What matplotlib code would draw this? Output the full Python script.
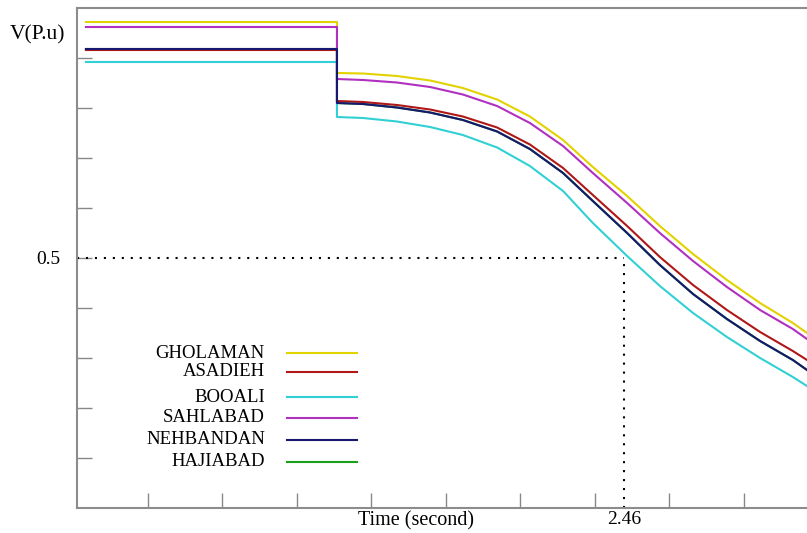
import matplotlib
matplotlib.use('Agg')
import matplotlib.pyplot as plt
import matplotlib.transforms as mtrans

# time axis (seconds)
t_pre = [1.014, 1.688]
t_post = [1.688, 1.758, 1.849, 1.938, 2.026, 2.118, 2.206, 2.295,
          2.375, 2.467, 2.555, 2.644, 2.735, 2.824, 2.912, 2.950]

# draw order (last one ends up on top)
names = ['HAJIABAD', 'GHOLAMAN', 'SAHLABAD', 'BOOALI', 'ASADIEH', 'NEHBANDAN']

v_pre = {
    'GHOLAMAN': 0.972,
    'SAHLABAD': 0.962,
    'ASADIEH': 0.916,
    'NEHBANDAN': 0.918,
    'BOOALI': 0.892,
    'HAJIABAD': 0.918,
}

v_post = {
    'GHOLAMAN': [0.870, 0.869, 0.864, 0.855, 0.840, 0.817, 0.783, 0.736,
                 0.682, 0.624, 0.564, 0.508, 0.456, 0.410, 0.370, 0.350],
    'SAHLABAD': [0.858, 0.856, 0.851, 0.842, 0.827, 0.804, 0.770, 0.724,
                 0.670, 0.610, 0.550, 0.494, 0.442, 0.396, 0.358, 0.338],
    'ASADIEH': [0.814, 0.812, 0.806, 0.797, 0.783, 0.761, 0.727, 0.680,
                0.626, 0.564, 0.502, 0.446, 0.396, 0.352, 0.314, 0.296],
    'NEHBANDAN': [0.810, 0.808, 0.801, 0.791, 0.776, 0.753, 0.718, 0.670,
                  0.614, 0.550, 0.486, 0.428, 0.378, 0.334, 0.296, 0.276],
    'BOOALI': [0.782, 0.780, 0.773, 0.762, 0.746, 0.721, 0.684, 0.634,
               0.570, 0.504, 0.444, 0.390, 0.342, 0.300, 0.262, 0.244],
    'HAJIABAD': [0.810, 0.808, 0.801, 0.791, 0.776, 0.753, 0.718, 0.670,
                 0.614, 0.550, 0.486, 0.428, 0.378, 0.334, 0.296, 0.276],
}

colors = {
    'GHOLAMAN': '#e2d200',
    'ASADIEH': '#b01818',
    'BOOALI': '#30d0d4',
    'SAHLABAD': '#b030c0',
    'NEHBANDAN': '#181870',
    'HAJIABAD': '#18a018',
}

legend_order = ['GHOLAMAN', 'ASADIEH', 'BOOALI', 'SAHLABAD', 'NEHBANDAN', 'HAJIABAD']
legend_y = [0.310, 0.272, 0.222, 0.180, 0.136, 0.092]

x_ticks = [1.18, 1.38, 1.58, 1.78, 1.98, 2.18, 2.38, 2.58, 2.78]
y_ticks = [0.1, 0.2, 0.3, 0.4, 0.5, 0.6, 0.7, 0.8, 0.9]
y_ticklabels = ['', '', '', '', '0.5', '', '', '', '']
t_mark = 2.46
v_mark = 0.5

serif = ['Liberation Serif', 'DejaVu Serif']

fig = plt.figure(figsize=(8.07, 5.33), dpi=100)
ax = fig.add_axes([77 / 807, 25 / 533, 730 / 807, 500 / 533])

for n in names:
    ax.plot(t_pre + t_post, [v_pre[n], v_pre[n]] + v_post[n],
            color=colors[n], lw=1.5, solid_joinstyle='round')

# dotted guide lines at 2.46 s / 0.5 pu
ax.plot([0.99, t_mark], [v_mark, v_mark], color='black', lw=1.5,
        linestyle=(0, (1, 3.3)))
ax.plot([t_mark, t_mark], [0, v_mark], color='black', lw=1.5,
        linestyle=(0, (1, 3.3)))

ax.set_xlim(0.99, 2.95)
ax.set_ylim(0, 1.0)

ax.set_xticks(x_ticks)
ax.set_xticklabels([])
ax.set_yticks(y_ticks)
ax.set_yticklabels(y_ticklabels, fontfamily=serif, fontsize=14)
ax.tick_params(axis='both', direction='in', length=11, width=1,
               color='#888888')
ax.tick_params(axis='y', pad=12)

for s in ['left', 'bottom', 'top']:
    ax.spines[s].set_color('#8c8c8c')
    ax.spines[s].set_linewidth(1.5)
ax.spines['right'].set_visible(False)

# hand-made legend: names right aligned, line sample to the right
for n, yy in zip(legend_order, legend_y):
    ax.text(0.2575, yy, n, transform=ax.transAxes, ha='right', va='center',
            fontfamily=serif, fontsize=13.5)
    ax.plot([0.2877, 0.3836], [yy, yy], transform=ax.transAxes,
            color=colors[n], lw=1.5)

trans = mtrans.blended_transform_factory(ax.transData, ax.transAxes)
ax.text(t_mark, -0.022, '2.46', transform=trans, ha='center', va='center',
        fontfamily=serif, fontsize=14, clip_on=False)
ax.text((416 - 77) / 730, -0.026, 'Time (second)', transform=ax.transAxes,
        ha='center', va='center', fontfamily=serif, fontsize=14.5)
fig.text(10 / 807, 1 - 35 / 533, 'V(P.u)', ha='left', va='center',
         fontfamily=serif, fontsize=15.5)

fig.savefig('out.png', dpi=100)
